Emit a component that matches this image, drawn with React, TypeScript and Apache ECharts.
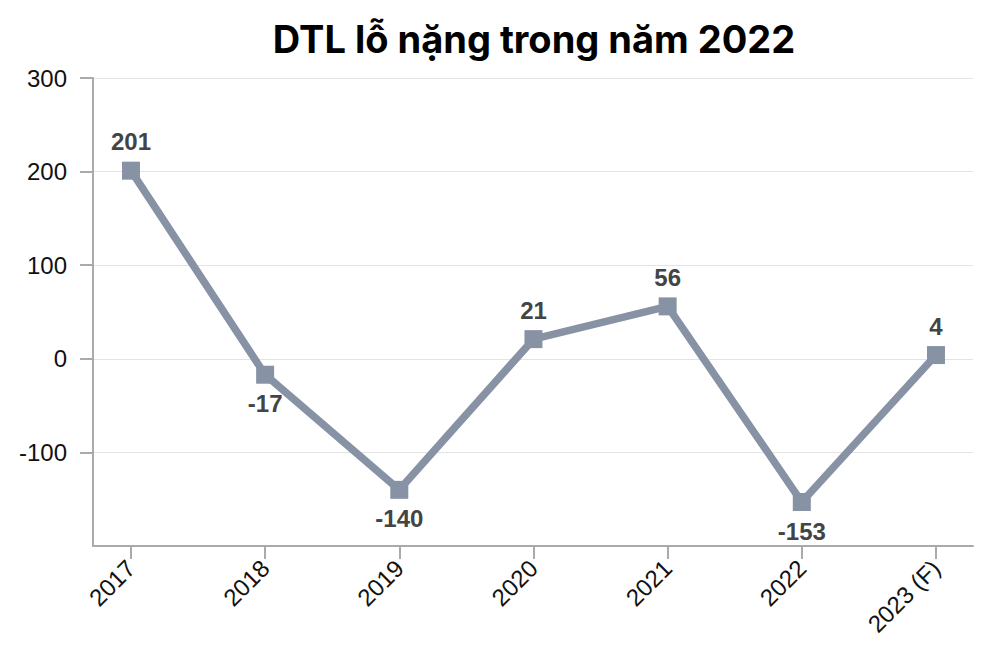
import React, { useEffect, useRef } from "react";
import * as echarts from "echarts";

const categories = ["2017", "2018", "2019", "2020", "2021", "2022", "2023 (F)"];
const values = [201, -17, -140, 21, 56, -153, 4];
const labelPositions = ["top", "bottom", "bottom", "top", "top", "bottom", "top"];
const yTicks = [-100, 0, 100, 200, 300];
const titleText = "DTL lỗ nặng trong năm 2022";

export default function App() {
  const ref = useRef<HTMLDivElement>(null);
  useEffect(() => {
    document.body.style.margin = "0";
    const chart = echarts.init(ref.current!, undefined, { renderer: "svg" });
    const idx = categories.map((_, i) => i);
    chart.setOption({
      animation: false,
      backgroundColor: "#ffffff",
      title: {
        text: titleText,
        left: 529,
        top: 15,
        textAlign: "center",
        textStyle: { fontFamily: "Inter", fontWeight: 700, fontSize: 38, color: "#000" },
      },
      grid: { left: 93, right: 27, top: 78, bottom: 106 },
      xAxis: {
        type: "value",
        min: -0.283,
        max: 6.276,
        splitLine: { show: false },
        axisLine: { show: true, onZero: false, lineStyle: { color: "#aaaaaa", width: 2 } },
        axisTick: { show: true, customValues: idx, length: 13, lineStyle: { color: "#aaaaaa", width: 2 } },
        axisLabel: {
          customValues: idx,
          rotate: 45,
          margin: 18,
          fontSize: 24,
          fontFamily: "Liberation Sans",
          color: "#111",
          formatter: (v: number) => categories[Math.round(v)] ?? "",
        },
      },
      yAxis: {
        type: "value",
        min: -200,
        max: 300,
        interval: 100,
        axisLine: { show: true, onZero: false, lineStyle: { color: "#aaaaaa", width: 2 } },
        axisTick: { show: true, customValues: yTicks, length: 13, lineStyle: { color: "#aaaaaa", width: 2 } },
        splitLine: { show: true, lineStyle: { color: "#e3e3e3", width: 1 } },
        axisLabel: {
          customValues: yTicks,
          margin: 26,
          fontSize: 24,
          fontFamily: "Liberation Sans",
          color: "#111",
        },
      },
      series: [
        {
          type: "line",
          data: values.map((v, i) => ({
            value: [i, v],
            label: { position: labelPositions[i] },
          })),
          symbol: "rect",
          symbolSize: 18,
          lineStyle: { color: "#8792a5", width: 7.5 },
          itemStyle: { color: "#8792a5" },
          label: {
            show: true,
            distance: 8,
            fontSize: 24,
            fontWeight: "bold",
            fontFamily: "Liberation Sans",
            color: "#444",
            formatter: (p: any) => String(p.value[1]),
          },
        },
      ],
    });
    return () => chart.dispose();
  }, []);
  return <div ref={ref} style={{ width: 1000, height: 652 }} />;
}
